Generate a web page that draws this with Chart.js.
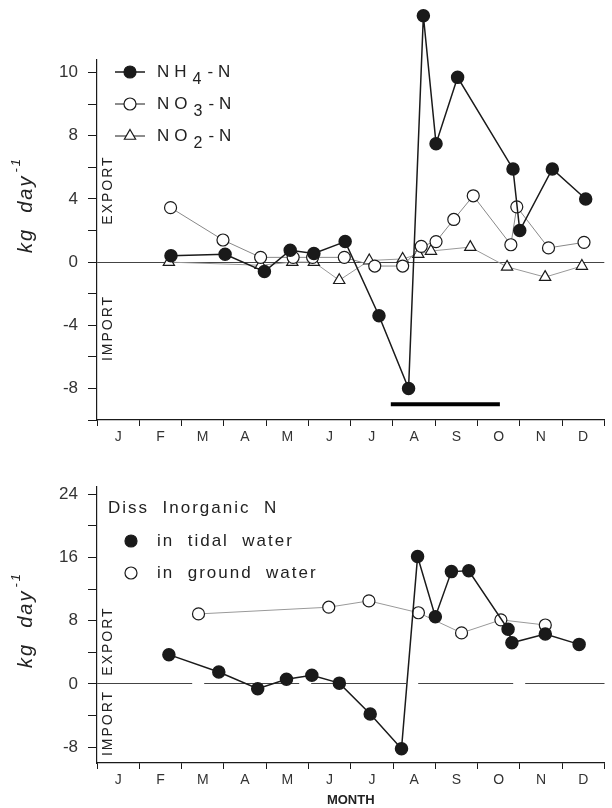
<!DOCTYPE html>
<html>
<head>
<meta charset="utf-8">
<script src="https://cdn.jsdelivr.net/npm/chart.js@4.4.1/dist/chart.umd.min.js"></script>
<style>
  html, body { margin: 0; padding: 0; background: #fff; }
  #wrap { position: relative; width: 612px; height: 808px; }
  canvas { position: absolute; left: 0; }
  #topChart { top: 0; }
  #bottomChart { top: 450px; }
</style>
</head>
<body>
<div id="wrap">
  <canvas id="topChart" width="612" height="450"></canvas>
  <canvas id="bottomChart" width="612" height="358"></canvas>
</div>
<script>
// month letters shown under each month (x axis runs 0 = 1 Jan .. 12 = 31 Dec)
const monthLabels = ['J', 'F', 'M', 'A', 'M', 'J', 'J', 'A', 'S', 'O', 'N', 'D'];

// top panel - kg/day by nitrogen species
const nh4Months = [1.75, 3.03, 3.96, 4.57, 5.13, 5.87, 6.67, 7.37, 7.72, 8.02, 8.53, 9.84, 10.0, 10.77, 11.56];
const nh4Values = [0.4, 0.5, -0.6, 0.75, 0.55, 1.3, -3.4, -8.0, 15.6, 7.5, 11.7, 5.9, 2.0, 5.9, 4.0];

const no3Months = [1.74, 2.98, 3.87, 4.64, 5.1, 5.85, 6.57, 7.23, 7.67, 8.02, 8.44, 8.9, 9.79, 9.93, 10.68, 11.52];
const no3Values = [3.45, 1.4, 0.3, 0.3, 0.3, 0.3, -0.25, -0.25, 1.0, 1.3, 2.7, 4.2, 1.1, 3.5, 0.9, 1.25];

const no2Months = [1.7, 3.87, 4.62, 5.13, 5.73, 6.44, 7.23, 7.6, 7.9, 8.83, 9.7, 10.6, 11.47];
const no2Values = [0.0, -0.2, 0.0, 0.0, -1.15, 0.1, 0.2, 0.5, 0.7, 0.95, -0.3, -0.95, -0.25];

// thick bar under the plot (Aug - Sep)
const barMonths = [6.95, 9.53];
const barValue = -9;

const topTickValues = [-8, -4, 0, 4, 8, 12];
const topTickLabels = ['-8', '-4', '0', '4', '8', '10'];

// bottom panel - dissolved inorganic N
const tidalMonths = [1.7, 2.88, 3.8, 4.48, 5.08, 5.73, 6.46, 7.2, 7.58, 8.0, 8.38, 8.79, 9.72, 9.81, 10.6, 11.4];
const tidalValues = [3.7, 1.5, -0.6, 0.6, 1.1, 0.1, -3.8, -8.2, 16.1, 8.5, 14.2, 14.3, 6.9, 5.2, 6.3, 5.0];

const groundMonths = [2.4, 5.48, 6.43, 7.6, 8.62, 9.55, 10.6];
const groundValues = [8.85, 9.7, 10.5, 9.0, 6.45, 8.1, 7.45];

const bottomTickValues = [-8, 0, 8, 16, 24];
const bottomTickLabels = ['-8', '0', '8', '16', '24'];

const FONT = '"Liberation Sans", "DejaVu Sans", sans-serif';
const INK = '#1a1a1a';

function pts(xs, ys) {
    return xs.map((x, i) => ({ x: x, y: ys[i] }));
}

function monthAxis(height) {
    return {
        type: 'linear',
        min: 0,
        max: 12,
        afterFit: function(scale) { scale.height = height; },
        border: { display: true, color: INK, width: 1.2 },
        grid: {
            drawOnChartArea: false,
            tickLength: 6,
            tickColor: ctx => (ctx.tick && ctx.tick.value % 1 === 0) ? INK : 'rgba(0,0,0,0)'
        },
        ticks: {
            stepSize: 0.5,
            autoSkip: false,
            maxRotation: 0,
            includeBounds: false,
            padding: 3,
            color: '#333',
            font: { family: FONT, size: 14 },
            callback: v => (v % 1 !== 0) ? monthLabels[Math.floor(v)] : ''
        }
    };
}

function valueAxis(min, max, step, values, labels, zeroDash) {
    return {
        type: 'linear',
        min: min,
        max: max,
        afterFit: function(scale) { scale.width = 97; },
        border: { display: true, color: INK, width: 1.2, dash: zeroDash || [] },
        grid: {
            drawOnChartArea: true,
            tickLength: 9,
            tickColor: INK,
            color: ctx => (ctx.tick && ctx.tick.value === 0) ? '#444' : 'rgba(0,0,0,0)',
            lineWidth: 1
        },
        ticks: {
            stepSize: step,
            includeBounds: false,
            autoSkip: false,
            padding: 10,
            color: '#333',
            font: { family: FONT, size: 17 },
            callback: v => {
                const i = values.indexOf(v);
                return i >= 0 ? labels[i] : '';
            }
        }
    };
}

// let points above the top of the axis (the Aug NH4 peak) still be drawn
const openTop = {
    id: 'openTop',
    beforeDatasetsDraw(chart) {
        this._area = chart.chartArea;
        chart.chartArea = Object.assign({}, chart.chartArea, { top: 0 });
    },
    afterDatasetsDraw(chart) {
        if (this._area) chart.chartArea = this._area;
    }
};

function vText(ctx, text, x, y, font, spacing) {
    ctx.save();
    ctx.translate(x, y);
    ctx.rotate(-Math.PI / 2);
    ctx.font = font;
    ctx.letterSpacing = spacing;
    ctx.fillStyle = '#222';
    ctx.textAlign = 'center';
    ctx.textBaseline = 'middle';
    ctx.fillText(text, 0, 0);
    ctx.restore();
}

function yTitle(ctx, x, y) {
    // kg day^-1, rotated
    ctx.save();
    ctx.translate(x, y);
    ctx.rotate(-Math.PI / 2);
    ctx.fillStyle = '#222';
    ctx.textBaseline = 'middle';
    ctx.letterSpacing = '2px';
    ctx.font = 'italic 20px ' + FONT;
    const main = 'kg  day';
    const w = ctx.measureText(main).width;
    ctx.font = 'italic 13px ' + FONT;
    const sup = '-1';
    const ws = ctx.measureText(sup).width;
    const start = -(w + ws + 2) / 2;
    ctx.font = 'italic 20px ' + FONT;
    ctx.fillText(main, start, 0);
    ctx.font = 'italic 13px ' + FONT;
    ctx.fillText(sup, start + w + 2, -10);
    ctx.restore();
}

function subText(ctx, x, y, pieces) {
    // pieces: [text, isSub]
    ctx.save();
    ctx.fillStyle = '#222';
    ctx.textBaseline = 'middle';
    ctx.letterSpacing = '5px';
    let cx = x;
    pieces.forEach(p => {
        ctx.font = (p[1] ? '16px ' : '17px ') + FONT;
        ctx.fillText(p[0], cx, p[1] ? y + 8 : y);
        cx += ctx.measureText(p[0]).width + 1;
    });
    ctx.restore();
}

function marker(ctx, style, fill, x, y, r) {
    ctx.save();
    ctx.fillStyle = fill;
    ctx.strokeStyle = INK;
    ctx.lineWidth = 1.2;
    Chart.helpers.drawPoint(ctx, { pointStyle: style, radius: r, rotation: 0, borderWidth: 1.2 }, x, y);
    ctx.restore();
}

const topDecor = {
    id: 'topDecor',
    afterDraw(chart) {
        const ctx = chart.ctx;
        yTitle(ctx, 26, 205);
        vText(ctx, 'EXPORT', 108, 190, '14px ' + FONT, '2px');
        vText(ctx, 'IMPORT', 108, 328, '14px ' + FONT, '2px');

        const rows = [
            { y: 72, style: 'circle', fill: INK, r: 6, lw: 1.5, pieces: [['NH', 0], ['4', 1], ['-N', 0]] },
            { y: 104, style: 'circle', fill: '#fff', r: 6, lw: 1, pieces: [['NO', 0], ['3', 1], ['-N', 0]] },
            { y: 136, style: 'triangle', fill: '#fff', r: 6.5, lw: 1, pieces: [['NO', 0], ['2', 1], ['-N', 0]] }
        ];
        rows.forEach(row => {
            ctx.save();
            ctx.strokeStyle = INK;
            ctx.lineWidth = row.lw;
            ctx.beginPath();
            ctx.moveTo(115, row.y);
            ctx.lineTo(145, row.y);
            ctx.stroke();
            ctx.restore();
            marker(ctx, row.style, row.fill, 130, row.y, row.r);
            subText(ctx, 157, row.y, row.pieces);
        });
    }
};

const bottomDecor = {
    id: 'bottomDecor',
    afterDraw(chart) {
        const ctx = chart.ctx;
        yTitle(ctx, 26, 170);
        vText(ctx, 'EXPORT', 108, 191, '14px ' + FONT, '2px');
        vText(ctx, 'IMPORT', 108, 273, '14px ' + FONT, '2px');

        ctx.save();
        ctx.fillStyle = '#222';
        ctx.textBaseline = 'middle';
        ctx.font = '17px ' + FONT;
        ctx.letterSpacing = '2px';
        ctx.fillText('Diss  Inorganic  N', 108, 58);
        ctx.fillText('in  tidal  water', 157, 91);
        ctx.fillText('in  ground  water', 157, 123);
        ctx.restore();
        marker(ctx, 'circle', INK, 131, 91, 6);
        marker(ctx, 'circle', '#fff', 131, 123, 6);
    }
};

new Chart(document.getElementById('topChart'), {
    type: 'line',
    data: {
        datasets: [
            {
                label: 'NH4-N',
                data: pts(nh4Months, nh4Values),
                borderColor: INK,
                borderWidth: 1.5,
                pointStyle: 'circle',
                pointRadius: 6,
                pointBackgroundColor: INK,
                pointBorderColor: INK,
                tension: 0,
                clip: false,
                order: 0
            },
            {
                label: 'NO3-N',
                data: pts(no3Months, no3Values),
                borderColor: '#888',
                borderWidth: 1,
                pointStyle: 'circle',
                pointRadius: 6,
                pointBackgroundColor: '#fff',
                pointBorderColor: INK,
                pointBorderWidth: 1.2,
                tension: 0,
                clip: false,
                order: 1
            },
            {
                label: 'NO2-N',
                data: pts(no2Months, no2Values),
                borderColor: '#999',
                borderWidth: 1,
                pointStyle: 'triangle',
                pointRadius: 6.5,
                pointBackgroundColor: '#fff',
                pointBorderColor: INK,
                pointBorderWidth: 1.2,
                tension: 0,
                clip: false,
                order: 2
            },
            {
                label: 'period',
                data: barMonths.map(m => ({ x: m, y: barValue })),
                borderColor: '#000',
                borderWidth: 4,
                pointRadius: 0,
                order: 3
            }
        ]
    },
    options: {
        responsive: false,
        animation: false,
        devicePixelRatio: 1,
        layout: { padding: { top: 60, right: 0, bottom: 0, left: 0 } },
        plugins: { legend: { display: false }, tooltip: { enabled: false } },
        scales: {
            x: monthAxis(30),
            y: valueAxis(-10, 12.8, 2, topTickValues, topTickLabels)
        }
    },
    plugins: [openTop, topDecor]
});

new Chart(document.getElementById('bottomChart'), {
    type: 'line',
    data: {
        datasets: [
            {
                label: 'in tidal water',
                data: pts(tidalMonths, tidalValues),
                borderColor: INK,
                borderWidth: 1.5,
                pointStyle: 'circle',
                pointRadius: 6,
                pointBackgroundColor: INK,
                pointBorderColor: INK,
                tension: 0,
                clip: false,
                order: 0
            },
            {
                label: 'in ground water',
                data: pts(groundMonths, groundValues),
                borderColor: '#999',
                borderWidth: 1,
                pointStyle: 'circle',
                pointRadius: 6,
                pointBackgroundColor: '#fff',
                pointBorderColor: INK,
                pointBorderWidth: 1.2,
                tension: 0,
                clip: false,
                order: 1
            }
        ]
    },
    options: {
        responsive: false,
        animation: false,
        devicePixelRatio: 1,
        layout: { padding: { top: 37, right: 0, bottom: 0, left: 0 } },
        plugins: { legend: { display: false }, tooltip: { enabled: false } },
        scales: {
            x: Object.assign(monthAxis(45), {
                title: {
                    display: true,
                    text: 'MONTH',
                    color: '#222',
                    font: { family: FONT, size: 13, weight: 'bold' },
                    padding: { top: 0, bottom: 0 }
                }
            }),
            y: valueAxis(-10, 24.9, 4, bottomTickValues, bottomTickLabels, [95, 12])
        }
    },
    plugins: [bottomDecor]
});
</script>
</body>
</html>
